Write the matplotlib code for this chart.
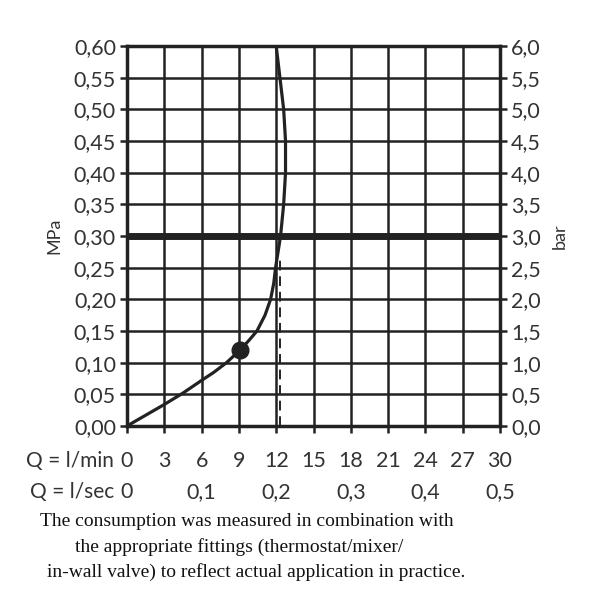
import matplotlib
matplotlib.use('Agg')
import matplotlib.pyplot as plt
import matplotlib.transforms as mtransforms

# flow curve, Q in l/min vs pressure in MPa
flow_lpm = [0, 1.5, 3, 4.5, 6, 7, 8, 9.1, 9.8, 10.45, 11.1, 11.55, 11.8, 11.95,
            12.15, 12.35, 12.6, 12.75, 12.75, 12.6, 12.3, 12.0]
press_mpa = [0, 0.017, 0.034, 0.052, 0.072, 0.085, 0.10, 0.12, 0.135, 0.15, 0.175,
             0.20, 0.225, 0.25, 0.275, 0.30, 0.35, 0.40, 0.45, 0.50, 0.55, 0.60]
marker_pt = (9.1, 0.12)
limit_flow = 12.3
limit_top = 0.27
ref_press = 0.30

lpm_ticks = list(range(0, 31, 3))
lps_pos = [0, 6, 12, 18, 24, 30]
lps_labels = ['0', '0,1', '0,2', '0,3', '0,4', '0,5']
mpa_ticks = [i * 0.05 for i in range(13)]
mpa_labels = ['%.2f' % v for v in mpa_ticks]
bar_ticks = [i * 0.5 for i in range(13)]
bar_labels = ['%.1f' % v for v in bar_ticks]

footer = ['The consumption was measured in combination with',
          'the appropriate fittings (thermostat/mixer/',
          'in-wall valve) to reflect actual application in practice.']

plt.rcParams['font.family'] = ['Lato', 'DejaVu Sans']
fc = '#222222'
tc = '#333333'
fs = 15.5

fig = plt.figure(figsize=(6, 6), dpi=100)
ax = fig.add_axes([127 / 600, 174 / 600, 373 / 600, 380 / 600])
ax.set_xlim(0, 30)
ax.set_ylim(0, 0.6)

for x in lpm_ticks[1:-1]:
    ax.axvline(x, color=fc, lw=1.8, zorder=1)
for y in mpa_ticks[1:-1]:
    ax.axhline(y, color=fc, lw=1.8, zorder=1)
ax.axhline(ref_press, color=fc, lw=5, zorder=2)

ax.plot(flow_lpm, press_mpa, color=fc, lw=2.3, zorder=3, solid_capstyle='round')
ax.plot([marker_pt[0]], [marker_pt[1]], 'o', color=fc, ms=12, zorder=4)
ax.plot([limit_flow, limit_flow], [0, limit_top], color=fc, lw=1.4,
        ls=(0, (5, 3)), zorder=3)

for s in ax.spines.values():
    s.set_linewidth(2.5)
    s.set_color(fc)

ax.set_yticks(mpa_ticks)
ax.set_yticklabels([l.replace('.', ',') for l in mpa_labels], fontsize=fs, color=tc)
ax.set_xticks(lpm_ticks)
ax.set_xticklabels([])
ax.tick_params(axis='both', direction='out', length=5, width=1.8, color=fc, pad=3)
ax.set_ylabel('MPa', fontsize=13, color=tc, labelpad=8)

ax2 = ax.twinx()
ax2.set_ylim(0, 6)
ax2.set_yticks(bar_ticks)
ax2.set_yticklabels([l.replace('.', ',') for l in bar_labels], fontsize=fs, color=tc)
ax2.tick_params(axis='y', direction='out', length=5, width=1.8, color=fc, pad=3)
for s in ax2.spines.values():
    s.set_visible(False)
ax2.set_ylabel('bar', fontsize=13, color=tc, labelpad=8)

tr = mtransforms.blended_transform_factory(ax.transData, fig.transFigure)
for x in lpm_ticks:
    ax.text(x, 1 - 461 / 600, str(x), transform=tr, ha='center', va='center',
            fontsize=fs, color=tc)
for x, l in zip(lps_pos, lps_labels):
    ax.text(x, 1 - 492 / 600, l, transform=tr, ha='center', va='center',
            fontsize=fs, color=tc)
fig.text(114 / 600, 1 - 461 / 600, 'Q = l/min', ha='right', va='center',
         fontsize=15, color=tc)
fig.text(114 / 600, 1 - 492 / 600, 'Q = l/sec', ha='right', va='center',
         fontsize=15, color=tc)

for (xl, yl), line in zip([(40, 521), (75, 547), (47, 572)], footer):
    fig.text(xl / 600, 1 - yl / 600, line, ha='left', va='center', fontsize=14,
             family=['Liberation Serif', 'DejaVu Serif'], color='#111111')

fig.savefig('out.png', dpi=100, facecolor='white')
